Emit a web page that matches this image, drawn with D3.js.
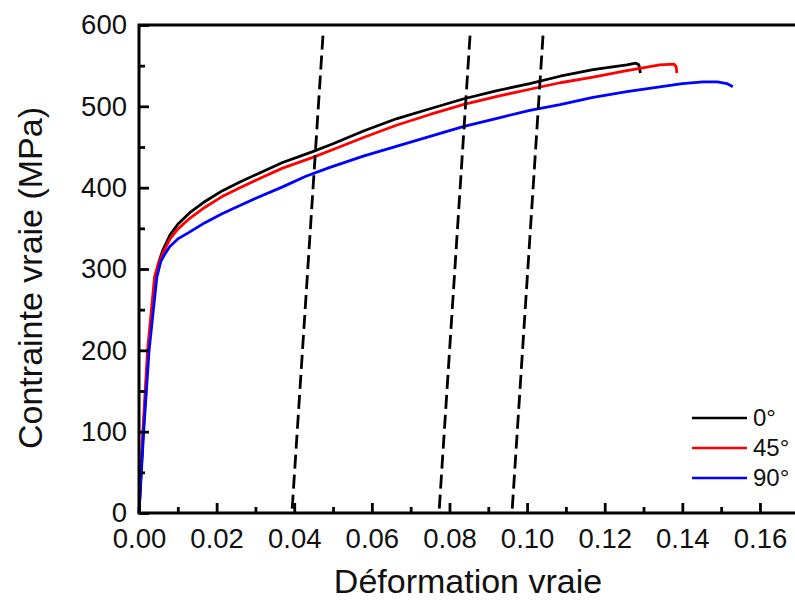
<!DOCTYPE html>
<html>
<head>
<meta charset="utf-8">
<script src="https://cdn.jsdelivr.net/npm/d3@7"></script>
<style>
  body { margin: 0; background: #fff; }
  text { font-family: "Liberation Sans", Arial, sans-serif; fill: #111; }
</style>
</head>
<body>
<svg id="chart" width="795" height="605"></svg>
<script>
// true strain / true stress
var series0 = [[0,0],[0.0011,100],[0.0024,200],[0.0042,290],[0.0052,310],[0.0062,324],[0.0080,342],[0.0100,355],[0.0130,369],[0.0170,383],[0.0214,396],[0.0260,407],[0.0301,416],[0.0370,431],[0.0446,444],[0.0500,454],[0.0580,470],[0.0665,485],[0.0750,497],[0.0835,509],[0.0920,519],[0.1007,528],[0.1085,537],[0.1170,545],[0.1257,551],[0.1280,553],[0.1288,551],[0.1292,541]];
var series45 = [[0,0],[0.0010,100],[0.0022,200],[0.0040,290],[0.0050,307],[0.0062,320],[0.0080,337],[0.0100,349],[0.0130,362],[0.0170,376],[0.0214,389],[0.0260,400],[0.0301,409],[0.0370,424],[0.0446,437],[0.0500,447],[0.0580,462],[0.0665,477],[0.0750,490],[0.0835,502],[0.0920,512],[0.1007,521],[0.1085,529],[0.1170,536],[0.1257,544],[0.1342,551],[0.1378,552],[0.1384,549],[0.1386,541]];
var series90 = [[0,0],[0.0012,100],[0.0026,200],[0.0046,290],[0.0056,309],[0.0066,318],[0.0080,328],[0.0100,337],[0.0129,345],[0.0170,357],[0.0214,368],[0.0260,378],[0.0301,387],[0.0370,401],[0.0430,414],[0.0492,425],[0.0580,439],[0.0665,451],[0.0750,463],[0.0835,475],[0.0920,485],[0.1007,495],[0.1085,502],[0.1170,511],[0.1257,518],[0.1342,524],[0.1400,528],[0.1453,530],[0.1490,530],[0.1515,528],[0.1530,524]];
var seriesNames = ["0°", "45°", "90°"];
var seriesColors = ["#000000", "#ff0000", "#0000ff"];

// elastic unloading lines (dashed): strain at 0 MPa and strain at top
var dashBottom = [0.0394, 0.0773, 0.0961];
var dashTop = [0.0474, 0.0853, 0.1041];
var dashTopStress = 587;

var xTicks = [0, 0.02, 0.04, 0.06, 0.08, 0.10, 0.12, 0.14, 0.16];
var xMinor = [0.01, 0.03, 0.05, 0.07, 0.09, 0.11, 0.13, 0.15];
var yTicks = [0, 100, 200, 300, 400, 500, 600];
var yMinor = [50, 150, 250, 350, 450, 550];

var svg = d3.select("#chart");
var plotLeft = 139, plotTop = 25, plotBottom = 513;

var x = d3.scaleLinear().domain([0, 0.17]).range([plotLeft, plotLeft + 0.17 * 3881]);
var y = d3.scaleLinear().domain([0, 600]).range([plotBottom, plotTop]);

// curves
var line = d3.line().x(function (d) { return x(d[0]); }).y(function (d) { return y(d[1]); });
[series0, series45, series90].forEach(function (s, i) {
    svg.append("path")
        .attr("d", line(s))
        .attr("fill", "none")
        .attr("stroke", seriesColors[i])
        .attr("stroke-width", 2.8)
        .attr("stroke-linejoin", "round");
});

// dashed lines
dashBottom.forEach(function (b, i) {
    svg.append("line")
        .attr("x1", x(dashTop[i])).attr("y1", y(dashTopStress))
        .attr("x2", x(b)).attr("y2", y(0))
        .attr("stroke", "#000")
        .attr("stroke-width", 2.8)
        .attr("stroke-dasharray", "14,6");
});

// axes
function styleAxis(g) {
    g.select(".domain").remove();
    g.selectAll(".tick line").attr("stroke", "#000").attr("stroke-width", 2.8);
    g.selectAll("text").style("font-size", "27.5px").attr("fill", "#111");
}

svg.append("g").attr("transform", "translate(0," + plotBottom + ")")
    .call(d3.axisBottom(x).tickValues(xTicks).tickSize(-10).tickPadding(15).tickFormat(d3.format(".2f")))
    .call(styleAxis);
svg.append("g").attr("transform", "translate(0," + plotBottom + ")")
    .call(d3.axisBottom(x).tickValues(xMinor).tickSize(-6).tickFormat(""))
    .call(styleAxis);
svg.append("g").attr("transform", "translate(" + plotLeft + ",0)")
    .call(d3.axisLeft(y).tickValues(yTicks).tickSize(-10).tickPadding(12))
    .call(styleAxis);
svg.append("g").attr("transform", "translate(" + plotLeft + ",0)")
    .call(d3.axisLeft(y).tickValues(yMinor).tickSize(-6).tickFormat(""))
    .call(styleAxis);

// frame: left, bottom, top
svg.append("path")
    .attr("d", "M800," + plotTop + "H" + plotLeft + "V" + plotBottom + "H800")
    .attr("fill", "none")
    .attr("stroke", "#000")
    .attr("stroke-width", 3);

// titles
svg.append("text")
    .attr("x", 468).attr("y", 593)
    .attr("text-anchor", "middle")
    .style("font-size", "34px")
    .text("Déformation vraie");
svg.append("text")
    .attr("transform", "translate(42,278) rotate(-90)")
    .attr("text-anchor", "middle")
    .style("font-size", "34px")
    .text("Contrainte vraie (MPa)");

// legend
var legend = svg.append("g");
seriesNames.forEach(function (name, i) {
    var ly = 418 + i * 30;
    legend.append("line")
        .attr("x1", 692).attr("x2", 747)
        .attr("y1", ly).attr("y2", ly)
        .attr("stroke", seriesColors[i])
        .attr("stroke-width", 2.6);
    legend.append("text")
        .attr("x", 753).attr("y", ly)
        .attr("dy", "0.35em")
        .style("font-size", "24px")
        .text(name);
});
</script>
</body>
</html>
